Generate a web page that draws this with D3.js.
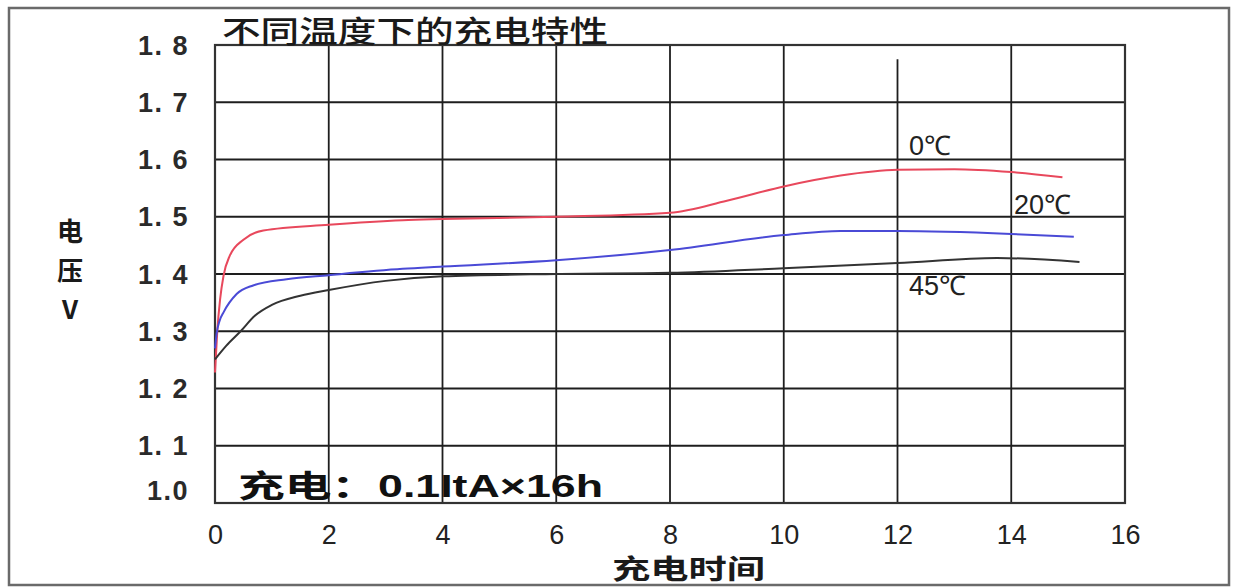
<!DOCTYPE html>
<html>
<head>
<meta charset="utf-8">
<script src="https://cdn.jsdelivr.net/npm/d3@7"></script>
<style>
  body { margin: 0; background: #fff; }
  .tick-y { font-family: "Liberation Sans", Arial, sans-serif; font-weight: bold; font-size: 27px; letter-spacing: 1.5px; fill: #2a2a2a; }
  .tick-x { font-family: "Liberation Sans Narrow", "Liberation Sans", Arial, sans-serif; font-size: 27px; fill: #222; }
  .cjk { font-family: "Noto Sans CJK SC", sans-serif; fill: #1a1a1a; }
</style>
</head>
<body>
<div id="figure"></div>
<script>
'use strict';

// 0℃
const hours0 = [0, 0.04, 0.09, 0.15, 0.26, 0.5, 0.85, 2, 3.3, 4, 6, 8, 9, 10, 11, 12, 13, 14, 14.9];
const volts0 = [1.228, 1.30, 1.356, 1.397, 1.432, 1.46, 1.476, 1.486, 1.494, 1.496, 1.50, 1.507, 1.528, 1.553, 1.572, 1.582, 1.583, 1.578, 1.569];
// 20℃
const hours20 = [0, 0.03, 0.08, 0.15, 0.38, 0.67, 1.26, 2, 3.3, 4, 6, 8, 10, 11, 12, 14, 15.1];
const volts20 = [1.27, 1.297, 1.318, 1.333, 1.365, 1.38, 1.391, 1.398, 1.409, 1.413, 1.424, 1.442, 1.468, 1.475, 1.475, 1.470, 1.465];
// 45℃
const hours45 = [0, 0.2, 0.45, 0.7, 1, 1.5, 2, 3, 4, 6, 8, 10, 12, 13.75, 15.2];
const volts45 = [1.251, 1.275, 1.30, 1.327, 1.346, 1.362, 1.372, 1.388, 1.396, 1.400, 1.402, 1.410, 1.419, 1.428, 1.421];

const seriesNames = ['0℃', '20℃', '45℃'];
const seriesColors = ['#e8485c', '#4a4ad6', '#333333'];

const xTicks = [0, 2, 4, 6, 8, 10, 12, 14, 16];
const yTicks = [1.0, 1.1, 1.2, 1.3, 1.4, 1.5, 1.6, 1.7, 1.8];
const yTickLabels = ['1.0', '1. 1', '1. 2', '1. 3', '1. 4', '1. 5', '1. 6', '1. 7', '1. 8'];

const title = '不同温度下的充电特性';
const yTitle = ['电', '压', 'V'];
const xTitle = '充电时间';
const noteLabel = '充电：';
const noteValue = '0.1ItA×16h';

function drawFigure() {
  const W = 1233, H = 587;
  const plot = { left: 215, right: 1125, top: 45, bottom: 503 };

  const x = d3.scaleLinear().domain([0, 16]).range([plot.left, plot.right]);
  const y = d3.scaleLinear().domain([1.0, 1.8]).range([plot.bottom, plot.top]);

  const svg = d3.select('div#figure')
    .append('svg')
    .attr('width', W)
    .attr('height', H)
    .attr('viewBox', [0, 0, W, H]);

  // outer frame
  svg.append('rect')
    .attr('x', 9).attr('y', 8)
    .attr('width', 1220).attr('height', 577)
    .attr('fill', 'none')
    .attr('stroke', '#6a6a6a')
    .attr('stroke-width', 2.5);

  // grid
  const grid = svg.append('g').attr('stroke', '#1e1e1e').attr('stroke-width', 1.8);
  grid.selectAll('line.h')
    .data(yTicks.slice(1, -1))
    .join('line')
    .attr('x1', plot.left).attr('x2', plot.right)
    .attr('y1', d => y(d)).attr('y2', d => y(d));
  grid.selectAll('line.v')
    .data(xTicks.slice(1, -1))
    .join('line')
    .attr('x1', d => x(d)).attr('x2', d => x(d))
    .attr('y1', d => d == 12 ? y(1.775) : plot.top)
    .attr('y2', plot.bottom);

  svg.append('rect')
    .attr('x', plot.left).attr('y', plot.top)
    .attr('width', plot.right - plot.left).attr('height', plot.bottom - plot.top)
    .attr('fill', 'none')
    .attr('stroke', '#333')
    .attr('stroke-width', 2.2);

  // axes (labels only)
  const yAxis = svg.append('g')
    .attr('transform', `translate(${plot.left - 23}, 0)`)
    .call(d3.axisLeft(y).tickValues(yTicks).tickSize(0).tickFormat((d, i) => yTickLabels[i]));
  yAxis.select('.domain').remove();
  yAxis.selectAll('text')
    .attr('class', 'tick-y')
    .attr('fill', null)
    .attr('dy', (d, i) => i == 0 ? '-0.12em' : '0.34em');

  const xAxis = svg.append('g')
    .attr('transform', `translate(0, ${plot.bottom + 19})`)
    .call(d3.axisBottom(x).tickValues(xTicks).tickSize(0));
  xAxis.select('.domain').remove();
  xAxis.selectAll('text')
    .attr('class', 'tick-x')
    .attr('fill', null)
    .attr('dy', '0.71em');

  // curves
  const line = d3.line()
    .curve(d3.curveMonotoneX)
    .x(d => x(d[0]))
    .y(d => y(d[1]));

  const series = [
    d3.zip(hours0, volts0),
    d3.zip(hours20, volts20),
    d3.zip(hours45, volts45),
  ];
  series.forEach((s, i) => {
    svg.append('path')
      .datum(s)
      .attr('fill', 'none')
      .attr('stroke', seriesColors[i])
      .attr('stroke-width', 2)
      .attr('d', line);
  });

  // series labels
  const labelPos = [[12.2, 1.607], [14.05, 1.504], [12.2, 1.364]];
  seriesNames.forEach((name, i) => {
    svg.append('text')
      .attr('class', 'tick-x')
      .attr('x', x(labelPos[i][0]))
      .attr('y', y(labelPos[i][1]))
      .attr('font-size', 22)
      .attr('fill', '#2a2a2a')
      .text(name);
  });

  // titles
  svg.append('text')
    .attr('class', 'cjk')
    .attr('x', 222).attr('y', 42)
    .attr('font-size', 30)
    .attr('font-weight', 500)
    .attr('textLength', 386)
    .attr('lengthAdjust', 'spacingAndGlyphs')
    .text(title);

  yTitle.forEach((t, i) => {
    svg.append('text')
      .attr('class', 'cjk')
      .attr('x', 70).attr('y', 241 + 39 * i)
      .attr('text-anchor', 'middle')
      .attr('font-size', 26)
      .attr('font-weight', 'bold')
      .text(t);
  });

  svg.append('text')
    .attr('class', 'cjk')
    .attr('x', 612).attr('y', 579)
    .attr('font-size', 27)
    .attr('font-weight', 'bold')
    .attr('fill', '#333')
    .attr('textLength', 153)
    .attr('lengthAdjust', 'spacingAndGlyphs')
    .text(xTitle);

  const note = svg.append('text')
    .attr('x', 238).attr('y', 497)
    .attr('font-weight', 'bold')
    .attr('fill', '#111');
  note.append('tspan')
    .attr('font-family', '"Noto Sans CJK SC", sans-serif')
    .attr('font-size', 31)
    .attr('textLength', 140)
    .attr('lengthAdjust', 'spacingAndGlyphs')
    .text(noteLabel);
  note.append('tspan')
    .attr('font-family', '"Liberation Sans", Arial, sans-serif')
    .attr('font-size', 32)
    .attr('textLength', 225)
    .attr('lengthAdjust', 'spacingAndGlyphs')
    .text(noteValue);
}

drawFigure();
</script>
</body>
</html>
